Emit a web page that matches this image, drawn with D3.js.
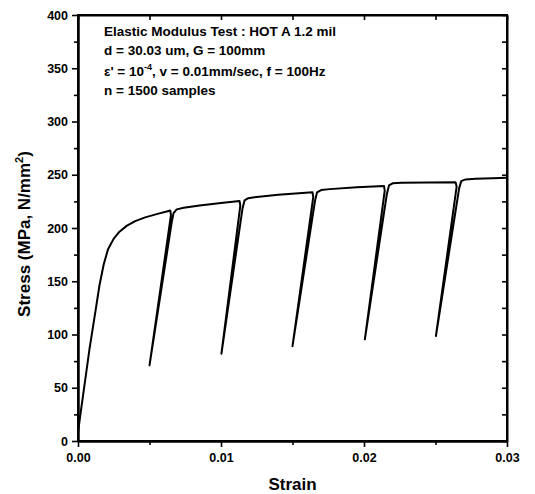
<!DOCTYPE html>
<html><head><meta charset="utf-8">
<script src="https://cdn.jsdelivr.net/npm/d3@7"></script>
<style>
body{margin:0;background:#fff;}
text{font-family:"Liberation Sans",Arial,sans-serif;fill:#000;}
</style></head>
<body><svg id="c" width="535" height="494"></svg>
<script>
// Data: strain vs stress (MPa), loading with 5 unload/reload cycles
const strain = [0.0000,0.0002,0.0005,0.0008,0.0012,0.0015,0.0018,0.0021,0.0025,0.0029,0.0034,0.0040,0.0047,0.0055,0.0062,0.00645,
  0.00650,0.00500,0.00655,0.00668,0.0069,0.0074,0.0085,0.0100,0.0113,
  0.01135,0.01003,0.01150,0.01165,0.0119,0.0125,0.0140,0.0164,
  0.01645,0.0150,0.01658,0.01672,0.0170,0.0176,0.0195,0.0214,
  0.02145,0.02006,0.02160,0.02175,0.0220,0.0226,0.0245,0.0264,
  0.02648,0.02503,0.02665,0.02680,0.0271,0.0278,0.0290,0.0300];
const stress = [8,28,57,86,120,146,166,180,190,196.5,202,206.5,210,213,215.5,216.5,
  212,71,205,214,217.5,219,221.2,223.5,225.3,
  221,82,218,226,228,229.2,231.3,233.5,
  229,89,226,233.5,235.6,236.5,238.2,239.5,
  235,95.5,232,240,242,242.4,242.7,243,
  239,98.6,237,244,245.6,246.2,246.8,247.2];
const xTicks = [0, 0.01, 0.02, 0.03];
const xTickLabels = ["0.00","0.01","0.02","0.03"];
const yTicks = [0,50,100,150,200,250,300,350,400];
const annotation = ["Elastic Modulus Test : HOT A 1.2 mil","d = 30.03 um, G = 100mm",null,"n = 1500 samples"];

const svg = d3.select("#c");
const x = d3.scaleLinear().domain([0,0.03]).range([78,507]);
const y = d3.scaleLinear().domain([0,400]).range([441,15]);

const xMinor = d3.range(0,0.0301,0.005).filter(v=>Math.abs(v*100-Math.round(v*100))>1e-6);
const yMinor = d3.range(25,400,50);

// bottom axis
svg.append("g").attr("transform",`translate(0,${y(0)})`)
  .call(d3.axisBottom(x).tickValues(xTicks).tickFormat((d,i)=>xTickLabels[i]).tickSize(6).tickPadding(6).tickSizeOuter(0));
svg.append("g").attr("transform",`translate(0,${y(0)})`)
  .call(d3.axisBottom(x).tickValues(xMinor).tickFormat("").tickSize(4).tickSizeOuter(0));
// left axis
svg.append("g").attr("transform",`translate(${x(0)},0)`)
  .call(d3.axisLeft(y).tickValues(yTicks).tickSize(6).tickPadding(4).tickSizeOuter(0));
svg.append("g").attr("transform",`translate(${x(0)},0)`)
  .call(d3.axisLeft(y).tickValues(yMinor).tickFormat("").tickSize(4).tickSizeOuter(0));
// top axis (ticks inward)
svg.append("g").attr("transform",`translate(0,${y(400)})`)
  .call(d3.axisBottom(x).tickValues(d3.range(0,0.0301,0.005)).tickFormat("").tickSize(5).tickSizeOuter(0));
// right axis (ticks inward)
svg.append("g").attr("transform",`translate(${x(0.03)},0)`)
  .call(d3.axisLeft(y).tickValues(d3.range(0,401,25)).tickFormat("").tickSize(5).tickSizeOuter(0));

svg.selectAll(".domain").attr("stroke","#000").attr("stroke-width",2);
svg.selectAll(".tick line").attr("stroke","#000").attr("stroke-width",1.6);
svg.selectAll(".tick text").style("font-size","12.5px").style("font-weight","bold").attr("fill","#000");

// frame
svg.append("rect").attr("x",x(0)).attr("y",y(400)).attr("width",x(0.03)-x(0)).attr("height",y(0)-y(400))
  .attr("fill","none").attr("stroke","#000").attr("stroke-width",2);

// curve
const pts = strain.map((s,i)=>[s,stress[i]]);
svg.append("path").datum(pts)
  .attr("d",d3.line().x(d=>x(d[0])).y(d=>y(d[1])).curve(d3.curveLinear))
  .attr("fill","none").attr("stroke","#000").attr("stroke-width",2).attr("stroke-linejoin","round");

// axis titles
svg.append("text").attr("x",(x(0)+x(0.03))/2).attr("y",490).attr("text-anchor","middle")
  .style("font-size","17px").style("font-weight","bold").text("Strain");
const yl = svg.append("text").attr("transform",`translate(30,${234}) rotate(-90)`).attr("text-anchor","middle")
  .style("font-size","17px").style("font-weight","bold");
yl.append("tspan").text("Stress (MPa, N/mm");
yl.append("tspan").attr("dy",-7).style("font-size","11px").text("2");
yl.append("tspan").attr("dy",7).text(")");

// annotation
const ax = 104, baseY = [36,55,76,95];
annotation.forEach((t,i)=>{
  if(t===null) return;
  svg.append("text").attr("x",ax).attr("y",baseY[i]).style("font-size","13.5px").style("font-weight","bold").text(t);
});
const t3 = svg.append("text").attr("x",ax).attr("y",baseY[2]).style("font-size","13.5px").style("font-weight","bold");
t3.append("tspan").text("ε' = 10");
t3.append("tspan").attr("dy",-6).style("font-size","9px").text("-4");
t3.append("tspan").attr("dy",6).text(", v = 0.01mm/sec, f = 100Hz");
</script></body></html>
